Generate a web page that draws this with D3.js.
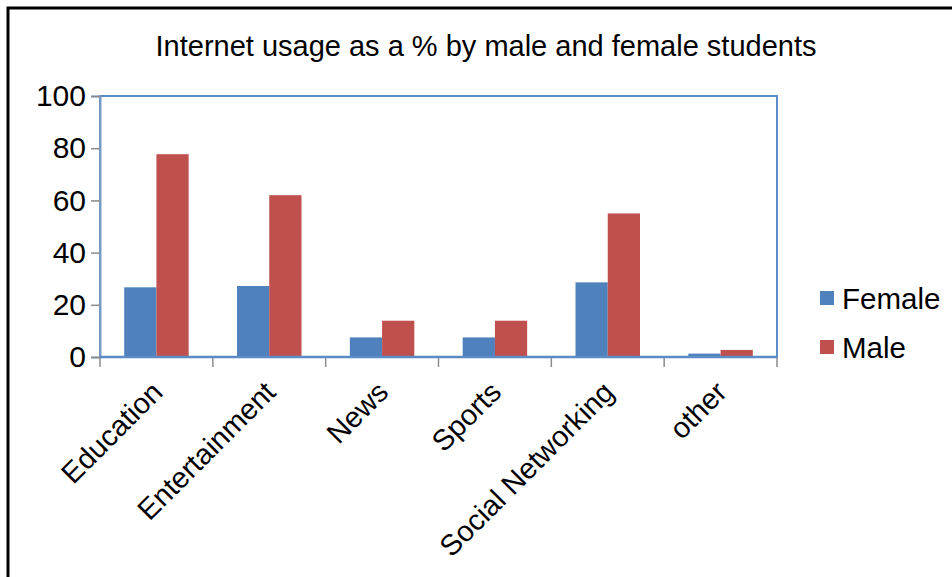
<!DOCTYPE html>
<html>
<head>
<meta charset="utf-8">
<script src="https://cdn.jsdelivr.net/npm/d3@7"></script>
<style>
  html, body { margin: 0; padding: 0; background: #fff; }
  svg { display: block; font-family: "Liberation Sans", Arial, sans-serif; }
</style>
</head>
<body>
<svg id="chart" width="952" height="577"></svg>
<script>
// Internet usage by category (%)
const categories = ["Education", "Entertainment", "News", "Sports", "Social Networking", "other"];
const female = [26.7, 27.2, 7.5, 7.5, 28.6, 1.3];
const male = [77.7, 62.0, 13.9, 13.9, 55.0, 2.7];
const seriesNames = ["Female", "Male"];
const seriesColors = ["#4F81BD", "#C0504D"];
const yTicks = [0, 20, 40, 60, 80, 100];

const svg = d3.select("#chart");

// outer frame
svg.append("rect")
  .attr("x", 8).attr("y", 8)
  .attr("width", 1000).attr("height", 700)
  .attr("fill", "none").attr("stroke", "#000").attr("stroke-width", 3);

const plot = { left: 100, right: 777, top: 96, bottom: 357 };

const x0 = d3.scaleBand().domain(categories)
  .range([plot.left, plot.right]).paddingInner(0).paddingOuter(0);
const gapRatio = 1.5; // gap between groups, relative to bar width
const barW = x0.bandwidth() / (2 + gapRatio);
const x1 = d3.scaleBand().domain(seriesNames)
  .range([0, 2 * barW]);
const y = d3.scaleLinear().domain([0, 100]).range([plot.bottom, plot.top]);

// title
svg.append("text")
  .attr("x", 486).attr("y", 56)
  .attr("text-anchor", "middle")
  .attr("font-size", 29)
  .attr("fill", "#000")
  .text("Internet usage as a % by male and female students");

// bars
const rows = categories.map((c, i) => ({ cat: c, vals: [female[i], male[i]] }));
const groups = svg.append("g").selectAll("g").data(rows).join("g")
  .attr("transform", d => `translate(${x0(d.cat) + barW * gapRatio / 2},0)`);
groups.selectAll("rect")
  .data(d => d.vals.map((v, j) => ({ name: seriesNames[j], v, j })))
  .join("rect")
  .attr("x", d => x1(d.name))
  .attr("width", x1.bandwidth())
  .attr("y", d => y(d.v))
  .attr("height", d => y(0) - y(d.v))
  .attr("fill", d => seriesColors[d.j]);

// plot area border
svg.append("rect")
  .attr("x", plot.left).attr("y", plot.top)
  .attr("width", plot.right - plot.left).attr("height", plot.bottom - plot.top)
  .attr("fill", "none").attr("stroke", "#5B8CC6").attr("stroke-width", 2);

// y axis
const yAxis = d3.axisLeft(y).tickValues(yTicks).tickSize(9).tickPadding(5).tickFormat(d3.format("d"));
const gy = svg.append("g").attr("transform", `translate(${plot.left},0)`).call(yAxis);
gy.select(".domain").attr("stroke", "#7a9cc6").attr("stroke-width", 2);
gy.selectAll(".tick line").attr("stroke", "#8c8c8c").attr("stroke-width", 1.5);
gy.selectAll(".tick text").attr("font-size", 30).attr("fill", "#000")
  .attr("font-family", "Liberation Sans, Arial, sans-serif");

// x axis with ticks at category boundaries
const xAxisG = svg.append("g").attr("transform", `translate(0,${plot.bottom})`);
xAxisG.append("line")
  .attr("x1", plot.left).attr("x2", plot.right)
  .attr("stroke", "#5B8CC6").attr("stroke-width", 2.5);
const bounds = categories.map(c => x0(c)).concat([x0(categories[categories.length - 1]) + x0.bandwidth()]);
xAxisG.selectAll("line.tk").data(bounds).join("line")
  .attr("class", "tk")
  .attr("x1", d => d).attr("x2", d => d)
  .attr("y1", 1).attr("y2", 10)
  .attr("stroke", "#8c8c8c").attr("stroke-width", 1.5);
xAxisG.selectAll("text").data(categories).join("text")
  .attr("transform", d => `translate(${x0(d) + x0.bandwidth() / 2 + 8},${37}) rotate(-45)`)
  .attr("text-anchor", "end")
  .attr("font-size", 29)
  .attr("fill", "#000")
  .text(d => d);

// legend
const legend = svg.append("g").attr("transform", "translate(820,0)");
const legY = [298, 347];
seriesNames.forEach((n, i) => {
  legend.append("rect")
    .attr("x", 0).attr("y", legY[i] - 7)
    .attr("width", 14).attr("height", 14)
    .attr("fill", seriesColors[i]);
  legend.append("text")
    .attr("x", 22).attr("y", legY[i])
    .attr("dy", "0.36em")
    .attr("font-size", 29.5)
    .attr("fill", "#000")
    .text(n);
});
</script>
</body>
</html>
